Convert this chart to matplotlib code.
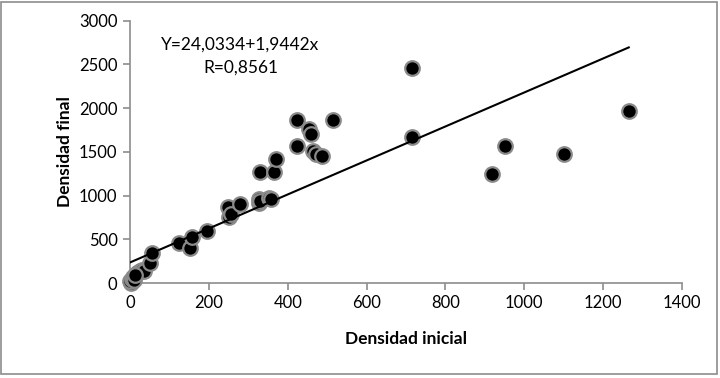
import matplotlib
matplotlib.use("Agg")
import matplotlib.pyplot as plt
from matplotlib.patches import Rectangle
import numpy as np

plt.rcParams['font.family'] = ['Lato', 'DejaVu Sans']

dens_inicial = [2, 0, 4, 8, 18, 22, 25, 30, 35, 10, 13, 50, 55, 125, 152, 156, 196,
                249, 252, 256, 279, 326, 328, 330, 353, 358, 330, 364, 370,
                423, 423, 453, 459, 465, 472, 486, 515, 716, 716, 918, 950, 1100, 1265]
dens_final = [0, 20, 50, 70, 110, 130, 140, 150, 140, 40, 90, 225, 340, 460, 395, 525, 590,
              870, 760, 790, 905, 960, 910, 940, 970, 960, 1265, 1265, 1420,
              1860, 1565, 1760, 1700, 1510, 1480, 1455, 1860, 2455, 1670, 1245, 1565, 1480, 1970]
line_intercept = 235
line_slope = 1.9442
xticks = [0, 200, 400, 600, 800, 1000, 1200, 1400]
yticks = [0, 500, 1000, 1500, 2000, 2500, 3000]

fig = plt.figure(figsize=(7.2, 3.78), dpi=100)
ax = fig.add_axes([130/720, 1-283/378, 552/720, 262.3/378])

ax.scatter(dens_inicial, dens_final, s=110, c='black', edgecolors='#8a8a8a',
           linewidths=1.6, zorder=3, clip_on=False)
xl = np.array([0, max(dens_inicial)])
ax.plot(xl, line_intercept + line_slope*xl, color='black', lw=1.5, zorder=4)

ax.set_xlim(0, 1400)
ax.set_ylim(0, 3000)
ax.set_xticks(xticks)
ax.set_yticks(yticks)
for s in ['top', 'right']:
    ax.spines[s].set_visible(False)
for s in ['left', 'bottom']:
    ax.spines[s].set_color('#8c8c8c')
    ax.spines[s].set_linewidth(1.2)
ax.tick_params(direction='out', length=5, color='#8c8c8c', width=1.2,
               labelsize=12, labelcolor='black', pad=4)
ax.set_xlabel('Densidad inicial', fontsize=12.5, fontweight='bold', labelpad=14)
ax.set_ylabel('Densidad final', fontsize=12.5, fontweight='bold', labelpad=4)

ax.text(240/720, 1-45/378, 'Y=24,0334+1,9442x', transform=fig.transFigure,
        ha='center', va='center', fontsize=12.5)
ax.text(241/720, 1-68/378, 'R=0,8561', transform=fig.transFigure,
        ha='center', va='center', fontsize=12.5)

fig.patches.append(Rectangle((1/720, 1-374/378), 716/720, 372/378,
                             transform=fig.transFigure, fill=False,
                             edgecolor='#8c8c8c', lw=1.2))

fig.savefig('out.png', dpi=100)
